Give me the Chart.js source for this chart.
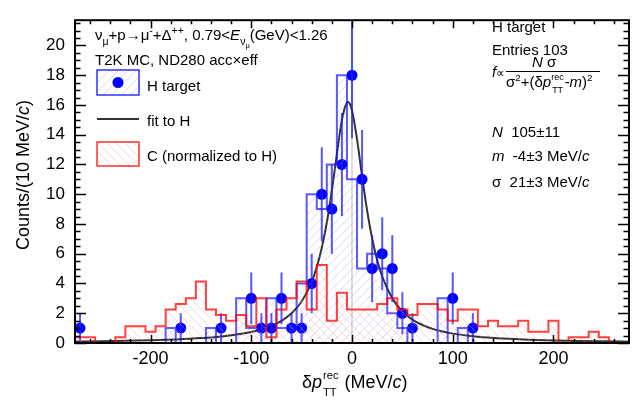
<!DOCTYPE html>
<html>
<head>
<meta charset="utf-8">
<script src="https://cdn.jsdelivr.net/npm/chart.js@4.4.0/dist/chart.umd.min.js"></script>
<style>
  html, body { margin: 0; padding: 0; background: #fff; }
  #wrap { width: 641px; height: 405px; }
</style>
</head>
<body>
<div id="wrap"><canvas id="chart-canvas" width="641" height="405"></canvas></div>
<script>
"use strict";

// bin centres (10 MeV/c bins)
let binCenters = [-270, -260, -250, -240, -230, -220, -210, -200, -190, -180,
  -170, -160, -150, -140, -130, -120, -110, -100, -90, -80,
  -70, -60, -50, -40, -30, -20, -10, 0, 10, 20,
  30, 40, 50, 60, 70, 80, 90, 100, 110, 120,
  130, 140, 150, 160, 170, 180, 190, 200, 210, 220,
  230, 240, 250, 260, 270];

// H target counts
let hCounts = [1, 0, 0, 0, 0, 0, 0, 0, 0, 0,
  1, 0, 0, 0, 1, 0, 0, 3, 1, 1,
  3, 1, 1, 4, 10, 9, 12, 18, 11, 5,
  6, 5, 2, 1, 0, 0, 0, 3, 0, 1,
  0, 0, 0, 0, 0, 0, 0, 0, 0, 0,
  0, 0, 0, 0, 0];

// C, normalized to H
let cCounts = [0, 0.38, 0.38, 0, 0, 0.38, 1.13, 1.13, 0.75, 1.13,
  2.25, 2.63, 3.0, 4.13, 2.25, 1.88, 1.5, 1.88, 1.13, 3.0,
  0.38, 2.25, 3.0, 4.13, 2.25, 5.25, 1.5, 3.38, 2.25, 2.25,
  2.25, 2.63, 3.0, 2.25, 1.88, 2.63, 2.63, 2.25, 1.5, 2.25,
  2.25, 1.13, 1.5, 1.13, 1.13, 1.5, 0.75, 0.75, 1.5, 0,
  0.38, 0.38, 0.75, 0.38, 0];

// fit curve
let fitX = [-275, -250, -225, -200, -175, -150, -125, -100, -90, -80,
  -70, -60, -50, -40, -35, -30, -25, -20, -15, -10,
  -5, -4, 0, 5, 10, 15, 20, 25, 30, 40,
  50, 60, 70, 80, 90, 100, 125, 150, 175, 200,
  225, 250, 275];
let fitY = [0.10, 0.11, 0.15, 0.18, 0.24, 0.33, 0.47, 0.74, 0.91, 1.15,
  1.49, 2.0, 2.79, 4.11, 5.1, 6.4, 8.1, 10.25, 12.7, 15.0,
  16.16, 16.2, 15.63, 13.69, 11.22, 8.91, 7.02, 5.57, 4.47, 3.0,
  2.13, 1.57, 1.21, 0.95, 0.77, 0.63, 0.42, 0.30, 0.22, 0.17,
  0.135, 0.11, 0.09];

let xTicks = [-200, -100, 0, 100, 200];
let yTicks = [0, 2, 4, 6, 8, 10, 12, 14, 16, 18, 20];

let binWidth = 10;
let xMin = -275, xMax = 275, yMax = 21.7;
let fontName = "'Liberation Sans', Arial, sans-serif";

function hatch(color, forward) {
  let c = document.createElement("canvas");
  c.width = 9;
  c.height = 9;
  let g = c.getContext("2d");
  g.strokeStyle = color;
  g.lineWidth = 1;
  g.beginPath();
  if (forward) {
    g.moveTo(-1, 10); g.lineTo(10, -1);
    g.moveTo(-5, 5); g.lineTo(5, -5);
    g.moveTo(4, 14); g.lineTo(14, 4);
  } else {
    g.moveTo(-1, -1); g.lineTo(10, 10);
    g.moveTo(-5, 4); g.lineTo(5, 14);
    g.moveTo(4, -5); g.lineTo(14, 5);
  }
  g.stroke();
  return g.createPattern(c, "repeat");
}

let blueHatch = hatch("rgba(150,150,255,0.35)", true);
let redHatch = hatch("rgba(255,150,150,0.4)", false);

// histogram outline points at bin edges
function histPoints(values) {
  let pts = [{ x: binCenters[0] - binWidth / 2, y: 0 }];
  for (let i = 0; i < values.length; i++) {
    pts.push({ x: binCenters[i] - binWidth / 2, y: values[i] });
  }
  let last = binCenters[binCenters.length - 1] + binWidth / 2;
  pts.push({ x: last, y: values[values.length - 1] });
  pts.push({ x: last, y: 0 });
  return pts;
}

function markerPoints() {
  let pts = [];
  for (let i = 0; i < hCounts.length; i++) {
    if (hCounts[i] > 0) pts.push({ x: binCenters[i], y: hCounts[i] });
  }
  return pts;
}

function fitPoints() {
  let pts = [];
  for (let i = 0; i < fitX.length; i++) pts.push({ x: fitX[i], y: fitY[i] });
  return pts;
}

// text with sub/superscripts
function drawRich(c, x, y, segs, size) {
  for (let s of segs) {
    let sc = s.s || 1;
    c.font = (s.i ? "italic " : "") + (size * sc).toFixed(1) + "px " + fontName;
    c.fillText(s.t, x, y + (s.dy || 0) * size);
    x += c.measureText(s.t).width;
  }
  return x;
}

let rootStyle = {
  id: "rootStyle",
  beforeDatasetsDraw(chart) {
    let c = chart.ctx, xs = chart.scales.x, a = chart.chartArea;
    c.save();
    c.strokeStyle = "#d0d0d0";
    c.lineWidth = 1.5;
    c.beginPath();
    c.moveTo(xs.getPixelForValue(0), a.bottom);
    c.lineTo(xs.getPixelForValue(0), a.top);
    c.stroke();
    c.restore();
  },
  afterDatasetDraw(chart, args) {
    if (args.index !== 1) return;
    let c = chart.ctx, xs = chart.scales.x, ys = chart.scales.y, a = chart.chartArea;
    c.save();
    c.beginPath();
    c.rect(a.left, a.top, a.right - a.left, a.bottom - a.top);
    c.clip();
    c.strokeStyle = "rgba(30,30,255,0.75)";
    c.lineWidth = 2;
    for (let i = 0; i < hCounts.length; i++) {
      let n = hCounts[i];
      if (n <= 0) continue;
      let e = Math.sqrt(n);
      let px = xs.getPixelForValue(binCenters[i]);
      c.beginPath();
      c.moveTo(px, ys.getPixelForValue(n - e));
      c.lineTo(px, ys.getPixelForValue(n + e));
      c.stroke();
    }
    c.restore();
  },
  afterDraw(chart) {
    let c = chart.ctx, xs = chart.scales.x, ys = chart.scales.y, a = chart.chartArea;
    c.save();
    // ticks
    c.strokeStyle = "#000";
    c.lineWidth = 1.5;
    c.beginPath();
    for (let v = 0; v <= yMax; v += 0.5) {
      let py = Math.round(ys.getPixelForValue(v)) + 0.5;
      let len = (v % 2 === 0) ? 11 : 5.5;
      c.moveTo(a.left, py); c.lineTo(a.left + len, py);
      c.moveTo(a.right, py); c.lineTo(a.right - len, py);
    }
    for (let v = -260; v <= 260; v += 20) {
      let px = Math.round(xs.getPixelForValue(v)) + 0.5;
      let len = (v % 100 === 0) ? 8 : 4;
      c.moveTo(px, a.bottom); c.lineTo(px, a.bottom - len);
      c.moveTo(px, a.top); c.lineTo(px, a.top + len);
    }
    c.stroke();
    // frame
    c.lineWidth = 2;
    c.strokeRect(a.left, a.top, a.right - a.left, a.bottom - a.top);

    c.fillStyle = "#000";
    c.textBaseline = "alphabetic";
    c.textAlign = "left";
    let fs = 15;
    drawRich(c, 95, 40, [
      { t: "\u03bd" }, { t: "\u03bc", s: 0.7, dy: 0.3 }, { t: "+p\u2192\u03bc" },
      { t: "-", s: 0.7, dy: -0.4 }, { t: "+\u0394" }, { t: "++", s: 0.7, dy: -0.4 },
      { t: ", 0.79<" }, { t: "E", i: 1 }, { t: "\u03bd", s: 0.7, dy: 0.3 },
      { t: "\u03bc", s: 0.5, dy: 0.5 }, { t: "(GeV)<1.26" }
    ], fs);
    drawRich(c, 95, 65, [{ t: "T2K MC, ND280 acc\u00d7eff" }], fs);

    // legend
    c.fillStyle = blueHatch;
    c.fillRect(97, 70, 42, 25);
    c.strokeStyle = "#3030ff";
    c.lineWidth = 1.5;
    c.strokeRect(97, 70, 42, 25);
    c.fillStyle = "#0000ff";
    c.beginPath();
    c.arc(118, 82.5, 5.5, 0, Math.PI * 2);
    c.fill();
    c.strokeStyle = "#333";
    c.lineWidth = 2;
    c.beginPath();
    c.moveTo(97, 119); c.lineTo(139, 119);
    c.stroke();
    c.fillStyle = redHatch;
    c.fillRect(97, 142, 42, 24);
    c.strokeStyle = "#ff3030";
    c.lineWidth = 1.5;
    c.strokeRect(97, 142, 42, 24);
    c.fillStyle = "#000";
    drawRich(c, 147, 91, [{ t: "H target" }], fs);
    drawRich(c, 147, 126, [{ t: "fit to H" }], fs);
    drawRich(c, 147, 161, [{ t: "C (normalized to H)" }], fs);

    // fit info
    drawRich(c, 492, 32, [{ t: "H target" }], fs);
    drawRich(c, 492, 55, [{ t: "Entries 103" }], fs);
    drawRich(c, 492, 77, [{ t: "f", i: 1 }, { t: "\u221d", s: 0.8 }], fs);
    drawRich(c, 532, 67, [{ t: "N", i: 1 }, { t: " \u03c3" }], fs);
    c.lineWidth = 1;
    c.strokeStyle = "#000";
    c.beginPath();
    c.moveTo(506, 71.5); c.lineTo(600, 71.5);
    c.stroke();
    drawRich(c, 506, 87, [
      { t: "\u03c3" }, { t: "2", s: 0.65, dy: -0.4 }, { t: "+(\u03b4" }, { t: "p", i: 1 },
      { t: "rec", s: 0.6, dy: -0.45 }
    ], fs);
    // sub TT under rec
    let recStart = 506;
    c.font = fs + "px " + fontName;
    recStart += c.measureText("\u03c3").width;
    c.font = (fs * 0.65) + "px " + fontName;
    recStart += c.measureText("2").width;
    c.font = fs + "px " + fontName;
    recStart += c.measureText("+(\u03b4").width;
    c.font = "italic " + fs + "px " + fontName;
    recStart += c.measureText("p").width;
    c.font = (fs * 0.6) + "px " + fontName;
    let recW = c.measureText("rec").width;
    c.fillText("TT", recStart + 1, 87 + 0.4 * fs);
    drawRich(c, recStart + recW + 1, 87, [
      { t: "-" }, { t: "m", i: 1 }, { t: ")" }, { t: "2", s: 0.65, dy: -0.4 }
    ], fs);

    drawRich(c, 492, 137, [{ t: "N", i: 1 }, { t: "  105\u00b111" }], fs);
    drawRich(c, 492, 161, [{ t: "m", i: 1 }, { t: "  -4\u00b13 MeV/" }, { t: "c", i: 1 }], fs);
    drawRich(c, 492, 187, [{ t: "\u03c3  21\u00b13 MeV/" }, { t: "c", i: 1 }], fs);

    // axis titles
    let ts = 18;
    let xx = drawRich(c, 302, 388, [{ t: "\u03b4" }, { t: "p", i: 1 }], ts);
    c.font = (ts * 0.62) + "px " + fontName;
    c.fillText("rec", xx + 1, 388 - 0.5 * ts);
    c.fillText("TT", xx + 1, 388 + 0.42 * ts);
    let w = c.measureText("rec").width;
    drawRich(c, xx + w + 2, 388, [{ t: " (MeV/" }, { t: "c", i: 1 }, { t: ")" }], ts);

    c.translate(29, 175);
    c.rotate(-Math.PI / 2);
    c.font = ts + "px " + fontName;
    let full = c.measureText("Counts/(10 MeV/").width;
    c.font = "italic " + ts + "px " + fontName;
    full += c.measureText("c").width;
    c.font = ts + "px " + fontName;
    full += c.measureText(")").width;
    drawRich(c, -full / 2, 0, [{ t: "Counts/(10 MeV/" }, { t: "c", i: 1 }, { t: ")" }], ts);
    c.restore();
  }
};

let ctx = document.getElementById("chart-canvas");
let chart = new Chart(ctx, {
  type: "line",
  data: {
    datasets: [
      {
        label: "C (normalized to H)",
        data: histPoints(cCounts),
        stepped: "after",
        borderColor: "rgba(255,0,0,0.75)",
        borderWidth: 2,
        backgroundColor: redHatch,
        fill: "origin",
        pointRadius: 0
      },
      {
        label: "H target",
        data: histPoints(hCounts),
        stepped: "after",
        borderColor: "rgba(20,20,255,0.7)",
        borderWidth: 2,
        backgroundColor: blueHatch,
        fill: "origin",
        pointRadius: 0
      },
      {
        label: "H points",
        data: markerPoints(),
        showLine: false,
        pointRadius: 5.5,
        pointBackgroundColor: "#0000ff",
        pointBorderColor: "#0000ff",
        pointBorderWidth: 0
      },
      {
        label: "fit to H",
        data: fitPoints(),
        borderColor: "#333333",
        borderWidth: 2,
        pointRadius: 0,
        cubicInterpolationMode: "monotone",
        fill: false
      }
    ]
  },
  options: {
    responsive: false,
    animation: false,
    devicePixelRatio: 1,
    layout: { padding: { top: 5, right: 12, left: 0, bottom: 0 } },
    plugins: { legend: { display: false }, tooltip: { enabled: false } },
    scales: {
      x: {
        type: "linear",
        min: xMin,
        max: xMax,
        grid: { display: false, drawTicks: false },
        border: { display: false },
        afterBuildTicks: (s) => { s.ticks = xTicks.map((v) => ({ value: v })); },
        afterFit: (s) => { s.height = 62; },
        ticks: {
          color: "#000",
          padding: 5,
          maxRotation: 0,
          font: { family: fontName, size: 18 },
          callback: (v) => String(v)
        }
      },
      y: {
        type: "linear",
        min: 0,
        max: yMax,
        grid: { display: false, drawTicks: false },
        border: { display: false },
        afterBuildTicks: (s) => { s.ticks = yTicks.map((v) => ({ value: v })); },
        afterFit: (s) => { s.width = 75; },
        ticks: {
          color: "#000",
          padding: 10,
          font: { family: fontName, size: 17 },
          callback: (v) => String(v)
        }
      }
    }
  },
  plugins: [rootStyle]
});
</script>
</body>
</html>
